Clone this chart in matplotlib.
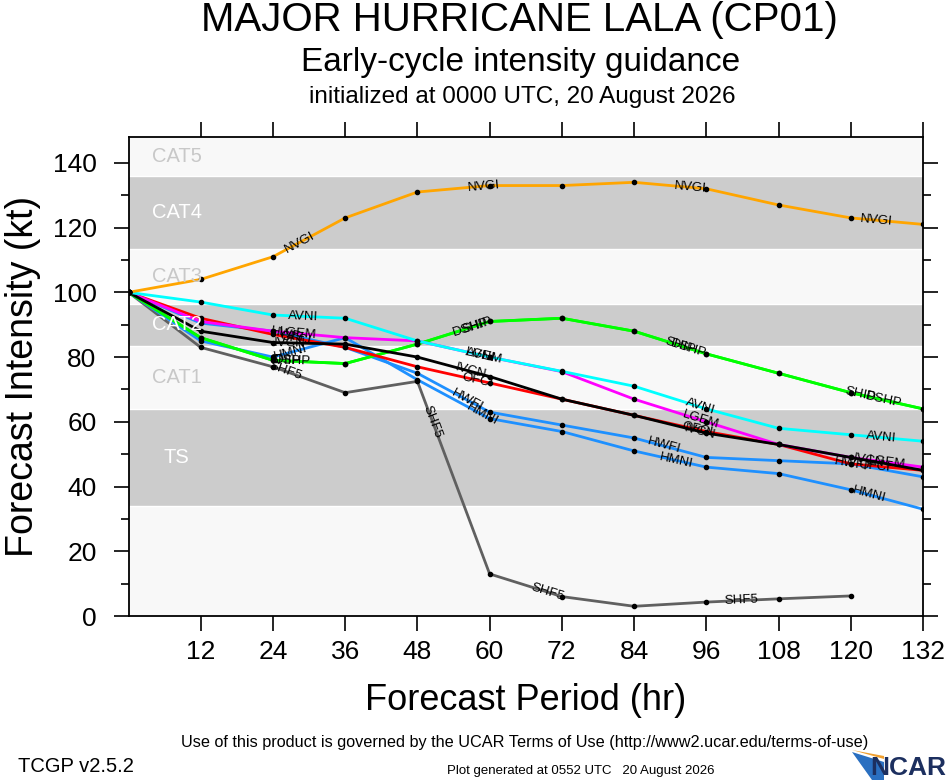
import numpy as np
import matplotlib
matplotlib.use("Agg")
import matplotlib.pyplot as plt
from matplotlib.patches import Polygon

plt.rcParams['font.family'] = ['Liberation Sans', 'DejaVu Sans']

# forecast hours and model intensities (kt)
hours = [0, 12, 24, 36, 48, 60, 72, 84, 96, 108, 120, 132]
ofci = [100, 92, 87, 83, 77, 72, 67, 62, 57, 53, 47, 45]
ivcn = [100, 88, 84.5, 84, 80, 74, 67, 62, 56.5, 53, 49, 45]
lgem = [100, 91, 88, 86, 85, 80, 75.5, 67, 60, 53, 49, 46]
avni = [100, 97, 93, 92, 85, 80, 75.6, 71, 64, 58, 56, 54]
ship = [100, 86, 79, 78, 84, 91, 92, 88, 81, 75, 69, 64]
dshp = [100, 86, 79, 78, 84, 91, 92, 88, 81, 75, 69, 64]
nvgi = [100, 104, 111, 123, 131, 133, 133, 134, 132, 127, 123, 121]
hwfi = [100, 90.5, 88, 83, 75, 63, 59, 55, 49, 48, 47, 43]
hmni = [100, 85, 80, 86, 73, 61, 57, 51, 46, 44, 39, 33]
shf5 = [100, 83, 77, 69, 72.5, 13, 6, 3, 4.3, 5.3, 6.2, np.nan]

# Saffir-Simpson band edges and names
band_edges = [0, 34, 64, 83.5, 96.5, 113.5, 136, 148]
band_names = ['', 'TS', 'CAT1', 'CAT2', 'CAT3', 'CAT4', 'CAT5']

models = [
    ('SHF5', shf5, '#606060', [26, 50.5, 69.6, 101.8]),
    ('HMNI', hmni, '#1e90ff', [27, 58.8, 91, 123]),
    ('HWFI', hwfi, '#1e90ff', [26.4, 56.3, 88.9, 120]),
    ('SHIP', ship, '#00ff00', [26, 58, 91.7, 121.6]),
    ('DSHP', dshp, '#00ff00', [27.2, 56.8, 93, 125.4]),
    ('OFCI', ofci, '#ff0000', [27.7, 58, 94.5, 124]),
    ('LGEM', lgem, '#ff00ff', [28.2, 59, 95, 126]),
    ('IVCN', ivcn, '#000000', [26.8, 56.8, 95, 123]),
    ('AVNI', avni, '#00ffff', [29, 58.4, 95, 125]),
    ('NVGI', nvgi, '#ffa500', [28.5, 59, 93.3, 124.3]),
]

W, H = 946, 780
fig = plt.figure(figsize=(W / 100, H / 100), dpi=100)
ax = fig.add_axes([128.5 / W, 1 - 616 / H, (923 - 128.5) / W, (616 - 137) / H])
ax.set_xlim(0, 132)
ax.set_ylim(0, 148)

# category bands
for i in range(len(band_edges) - 1):
    col = '#cccccc' if i % 2 == 1 else '#f8f8f8'
    ax.axhspan(band_edges[i], band_edges[i + 1], color=col, lw=0, zorder=0)
    if i > 0:
        ax.axhline(band_edges[i], color='white', lw=1, zorder=0.5)
    if band_names[i]:
        tcol = 'white' if i % 2 == 1 else '#c8c8c8'
        xpos = 5.8 if band_names[i] == 'TS' else 3.9
        ax.text(xpos, (band_edges[i] + band_edges[i + 1]) / 2, band_names[i],
                color=tcol, fontsize=14.5, ha='left', va='center', zorder=4.5)

for name, vals, col, _ in models:
    ax.plot(hours, vals, color=col, lw=2, zorder=3)
    ax.plot(hours, vals, 'o', color='black', ms=3, zorder=4)

fig.canvas.draw()
hrs = np.array(hours, dtype=float)
for name, vals, col, lab_t in models:
    v = np.array(vals, dtype=float)
    for tl in lab_t:
        k = min(int(tl // 12), len(hrs) - 2)
        if np.isnan(v[k]) or np.isnan(v[k + 1]):
            continue
        vl = v[k] + (v[k + 1] - v[k]) * (tl - hrs[k]) / 12.0
        p1 = ax.transData.transform((hrs[k], v[k]))
        p2 = ax.transData.transform((hrs[k + 1], v[k + 1]))
        ang = np.degrees(np.arctan2(p2[1] - p1[1], p2[0] - p1[0]))
        ax.text(tl, vl, name, rotation=ang, rotation_mode='anchor',
                ha='center', va='center', fontsize=9.5, color='black', zorder=5)

# axes styling
ax.set_xticks(range(12, 133, 12))
ax.set_yticks(range(0, 141, 20))
ax.set_yticks(range(10, 140, 20), minor=True)
ax.tick_params(axis='both', which='major', direction='out', length=11, width=1.2,
               top=True, right=True, labelsize=19)
ax.tick_params(axis='y', which='minor', direction='out', length=6, width=1.2, right=True)
ax.tick_params(axis='y', which='major', pad=12)
ax.tick_params(axis='x', which='major', pad=6)
for s in ax.spines.values():
    s.set_linewidth(1.3)

ax.set_xlabel('Forecast Period (hr)', fontsize=26, labelpad=14)
ax.set_ylabel('Forecast Intensity (kt)', fontsize=27, labelpad=8)

fig.text(519 / W, 1 - 20 / H, 'MAJOR HURRICANE LALA (CP01)', fontsize=29,
         ha='center', va='center')
fig.text(521 / W, 1 - 62 / H, 'Early-cycle intensity guidance', fontsize=24,
         ha='center', va='center')
fig.text(522 / W, 1 - 97 / H, 'initialized at 0000 UTC, 20 August 2026', fontsize=17.5,
         ha='center', va='center')

fig.text(525 / W, 1 - 742 / H,
         'Use of this product is governed by the UCAR Terms of Use (http://www2.ucar.edu/terms-of-use)',
         fontsize=11.7, ha='center', va='center')
fig.text(18 / W, 1 - 766 / H, 'TCGP v2.5.2', fontsize=14.5, ha='left', va='center')
fig.text(581 / W, 1 - 771 / H, 'Plot generated at 0552 UTC   20 August 2026',
         fontsize=9.5, ha='center', va='center')

# NCAR logo
fig.patches.append(Polygon([[852 / W, 1 - 752 / H], [884 / W, 1 - 762 / H],
                            [884 / W, 1 - 780 / H], [872 / W, 1 - 780 / H]],
                           closed=True, transform=fig.transFigure,
                           facecolor='#2a6fc0', edgecolor='none'))
fig.patches.append(Polygon([[852 / W, 1 - 750 / H], [884 / W, 1 - 756 / H],
                            [884 / W, 1 - 759 / H]],
                           closed=True, transform=fig.transFigure,
                           facecolor='#f0a030', edgecolor='none'))
fig.text(946 / W, 1 - 768 / H, 'NCAR', fontsize=19, fontweight='bold',
         color='#1c2f5f', ha='right', va='center')

fig.savefig('out.png', dpi=100)
